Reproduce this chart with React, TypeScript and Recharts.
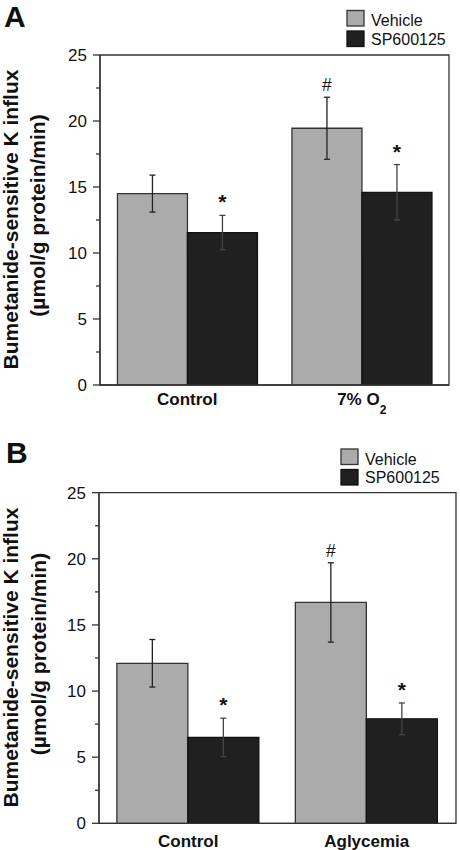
import React from 'react';
import { BarChart, Bar, XAxis, YAxis, ErrorBar, LabelList, Customized, ReferenceArea } from 'recharts';

const seriesNames = ['Vehicle', 'SP600125'];
const yLabelLines = ['Bumetanide-sensitive K influx', '(\u00b5mol/g protein/min)'];
const yTicks = [0, 2.5, 5, 7.5, 10, 12.5, 15, 17.5, 20, 22.5, 25];
const yMajorTicks = [0, 5, 10, 15, 20, 25];

const categoriesA = ['Control', '7% O2'];
const vehicleA = [14.5, 19.45];
const vehicleErrA = [1.4, 2.35];
const spA = [11.55, 14.6];
const spErrA = [1.3, 2.1];
const vehicleMarksA = ['', '#'];
const spMarksA = ['*', '*'];

const categoriesB = ['Control', 'Aglycemia'];
const vehicleB = [12.1, 16.7];
const vehicleErrB = [1.8, 3.0];
const spB = [6.5, 7.9];
const spErrB = [1.45, 1.2];
const vehicleMarksB = ['', '#'];
const spMarksB = ['*', '*'];

const FONT = '"Liberation Sans", Arial, Helvetica, sans-serif';
const AXIS = '#333';
const VEH_FILL = '#ababab';
const SP_FILL = '#202020';

const YTick = (props: any) => {
  const { x, y, payload } = props;
  const v = payload.value;
  const major = yMajorTicks.includes(v);
  return (
    <g>
      <line x1={x - (major ? 7 : 4)} x2={x} y1={y} y2={y} stroke={AXIS} strokeWidth={1.3} />
      {major && (
        <text x={x - 13} y={y} dy="0.36em" textAnchor="end" fontSize={17} fontFamily={FONT} fill="#111">
          {v}
        </text>
      )}
    </g>
  );
};

const makeXTick = (dy: number) => (props: any) => {
  const { x, y, payload } = props;
  const v: string = String(payload.value);
  const sub = v.endsWith('O2');
  return (
    <text x={x} y={y + dy} textAnchor="middle" fontSize={17} fontWeight="bold" fontFamily={FONT} fill="#111">
      {sub ? (
        <>
          <tspan>{v.slice(0, -1)}</tspan>
          <tspan fontSize={12} dy={9}>{'2'}</tspan>
        </>
      ) : (
        v
      )}
    </text>
  );
};

const makeMark = (errs: number[], marks: string[]) => (props: any) => {
  const { x, y, width, height, value, index } = props;
  const m = marks[index];
  if (!m) return null;
  const pxPerUnit = height / value;
  const errTop = y - errs[index] * pxPerUnit;
  const isStar = m === '*';
  return (
    <text
      x={x + width / 2}
      y={errTop - 6}
      textAnchor="middle"
      fontSize={isStar ? 21 : 17.5}
      fontWeight={isStar ? 'bold' : 'normal'}
      fontFamily={FONT}
      fill="#111"
    >
      {m}
    </text>
  );
};

type PanelProps = {
  letter: string;
  categories: string[];
  vehicle: number[];
  vehicleErr: number[];
  sp: number[];
  spErr: number[];
  vehicleMarks: string[];
  spMarks: string[];
  top: number;
  height: number;
  margin: { top: number; right: number; left: number; bottom: number };
  xLabelDy: number;
  letterPos: { x: number; y: number };
  legendPos: { x: number; y: number };
  yLabelPos: { x1: number; c1: number; x2: number; c2: number };
};

const Overlay = ({ p }: { p: PanelProps }) => (
  <g fontFamily={FONT}>
    <text x={p.letterPos.x} y={p.letterPos.y} fontSize={30} fontWeight="bold" fill="#111">
      {p.letter}
    </text>
    <text
      transform={`translate(${p.yLabelPos.x1},${p.yLabelPos.c1}) rotate(-90)`}
      textAnchor="middle"
      fontSize={21}
      fontWeight="bold"
      fill="#111"
    >
      {yLabelLines[0]}
    </text>
    <text
      transform={`translate(${p.yLabelPos.x2},${p.yLabelPos.c2}) rotate(-90)`}
      textAnchor="middle"
      fontSize={21}
      fontWeight="bold"
      fill="#111"
    >
      {yLabelLines[1]}
    </text>
    {seriesNames.map((n, i) => (
      <g key={n}>
        <rect
          x={p.legendPos.x}
          y={p.legendPos.y + i * 20.5}
          width={17}
          height={15.5}
          fill={i === 0 ? VEH_FILL : SP_FILL}
          stroke={i === 0 ? '#333' : '#111'}
          strokeWidth={1.3}
        />
        <text x={p.legendPos.x + 24} y={p.legendPos.y + 15.5 + i * 18.5} fontSize={16} fill="#111">
          {n}
        </text>
      </g>
    ))}
  </g>
);

const Panel = (p: PanelProps) => {
  const data = p.categories.map((c, i) => ({
    category: c,
    vehicle: p.vehicle[i],
    vehicleErr: p.vehicleErr[i],
    sp: p.sp[i],
    spErr: p.spErr[i],
  }));
  return (
    <div style={{ position: 'absolute', left: 0, top: p.top, width: 460, height: p.height }}>
      <BarChart
        width={460}
        height={p.height}
        data={data}
        margin={p.margin}
        barCategoryGap="10%"
        barGap={0}
      >
        <ReferenceArea y1={0} y2={25} fill="none" stroke={AXIS} strokeWidth={1.3} fillOpacity={0} />
        <XAxis
          dataKey="category"
          height={25}
          tickLine={false}
          tickSize={0}
          tickMargin={0}
          axisLine={{ stroke: AXIS, strokeWidth: 1.3 }}
          tick={makeXTick(p.xLabelDy)}
          interval={0}
        />
        <YAxis
          width={45}
          domain={[0, 25]}
          ticks={yTicks}
          interval={0}
          tickLine={false}
          tickSize={0}
          tickMargin={0}
          axisLine={{ stroke: AXIS, strokeWidth: 1.3 }}
          tick={<YTick />}
          allowDataOverflow
        />
        <Bar dataKey="vehicle" name={seriesNames[0]} fill={VEH_FILL} stroke="#333" strokeWidth={1.3} isAnimationActive={false}>
          <ErrorBar dataKey="vehicleErr" width={3} stroke="#222" strokeWidth={1.3} direction="y" />
          <LabelList dataKey="vehicle" content={makeMark(p.vehicleErr, p.vehicleMarks)} />
        </Bar>
        <Bar dataKey="sp" name={seriesNames[1]} fill={SP_FILL} stroke="#111" strokeWidth={1.3} isAnimationActive={false}>
          <ErrorBar dataKey="spErr" width={3} stroke="#444" strokeWidth={1.3} direction="y" />
          <LabelList dataKey="sp" content={makeMark(p.spErr, p.spMarks)} />
        </Bar>
        <Customized component={<Overlay p={p} />} />
      </BarChart>
    </div>
  );
}

export default function App() {
  return (
    <div style={{ position: 'absolute', left: 0, top: 0, width: 460, height: 850, background: '#fff', overflow: 'hidden' }}>
      <Panel
        letter="A"
        categories={categoriesA}
        vehicle={vehicleA}
        vehicleErr={vehicleErrA}
        sp={spA}
        spErr={spErrA}
        vehicleMarks={vehicleMarksA}
        spMarks={spMarksA}
        top={0}
        height={420}
        margin={{ top: 55, right: 11, left: 55, bottom: 10 }}
        xLabelDy={20}
        letterPos={{ x: 4, y: 27 }}
        legendPos={{ x: 347, y: 10.5 }}
        yLabelPos={{ x1: 17.5, c1: 219.5, x2: 44.5, c2: 215.5 }}
      />
      <Panel
        letter="B"
        categories={categoriesB}
        vehicle={vehicleB}
        vehicleErr={vehicleErrB}
        sp={spB}
        spErr={spErrB}
        vehicleMarks={vehicleMarksB}
        spMarks={spMarksB}
        top={420}
        height={430}
        margin={{ top: 72.7, right: 4, left: 54, bottom: 1.7 }}
        xLabelDy={24}
        letterPos={{ x: 6, y: 43 }}
        legendPos={{ x: 341, y: 29 }}
        yLabelPos={{ x1: 18, c1: 237.5, x2: 45.5, c2: 234 }}
      />
    </div>
  );
}
